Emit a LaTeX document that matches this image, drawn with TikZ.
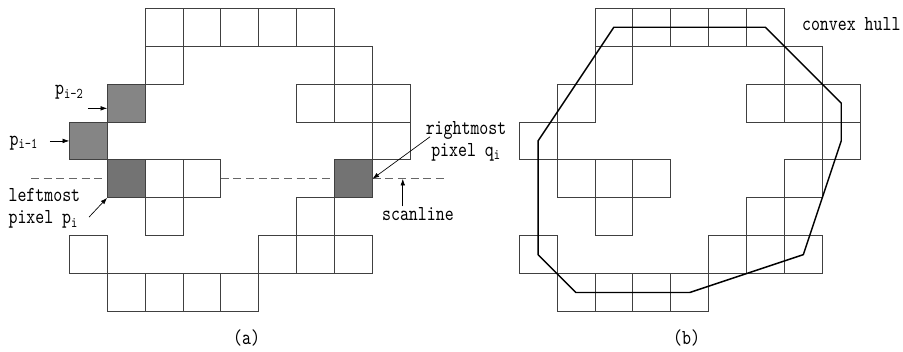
\documentclass[tikz,border=0pt]{standalone}
\usepackage{fontspec}
\usepackage{tikz}
\usetikzlibrary{arrows.meta}
\newfontfamily\pixfont[FakeStretch=0.8]{lmmono10-regular.otf}
\newcommand{\blobcells}{2/0,3/0,4/0,5/0,6/0,2/1,7/1,1/2,6/2,7/2,8/2,0/3,8/3,1/4,2/4,3/4,7/4,2/5,6/5,0/6,5/6,6/6,7/6,1/7,2/7,3/7,4/7}
\tikzstyle{pixel}=[draw=black!75, fill=white, line width=0.6pt, inner sep=0, outer sep=0, minimum size=1cm]
\tikzstyle{spixel}=[pixel, fill=black!55]
\tikzstyle{lbl}=[inner sep=0, font=\pixfont\fontsize{16}{16.5}\selectfont]
\tikzstyle{ptr}=[line width=0.5pt, -{Latex[length=5pt,width=3.5pt]}]
\tikzstyle{scanline}=[black!60, line width=0.8pt, dash pattern=on 6pt off 3.5pt]
\tikzstyle{hull}=[line width=1.1pt, line join=round]
\begin{document}
\begin{tikzpicture}
        \useasboundingbox (-1.829,0.219) rectangle (22.0,-9.069);
        % (a): scanline under the pixels
        \coordinate (sl0) at (-1.01,-4.5);
        \coordinate (sl1) at (10,-4.5);
        \draw[scanline] (sl0) -- (sl1);
        \foreach \c/\r in \blobcells
            \node[pixel] (a-\c-\r) at (\c+0.5,-\r-0.5) {};
        \node[spixel, fill=black!48] (pim2) at (1.5,-2.5) {};
        \node[spixel, fill=black!48] (pim1) at (0.5,-3.5) {};
        \node[spixel]                (pi)   at (1.5,-4.5) {};
        \node[spixel]                (qi)   at (7.5,-4.5) {};
        \node[lbl] (lpim2) at (0,-2.22) {p\textsubscript{i-2}};
        \node[lbl] (lpim1) at (-1.2,-3.55) {p\textsubscript{i-1}};
        \node[lbl, align=left, anchor=west] (lpi) at (-1.61,-5.28) {leftmost\\pixel p\textsubscript{i}};
        \node[lbl, align=center] (lqi) at (10.47,-3.5) {rightmost\\pixel q\textsubscript{i}};
        \node[lbl] (lscan) at (9.2,-5.42) {scanline};
        \coordinate (tpim2) at (0.49,-2.64);
        \coordinate (tpim1) at (-0.51,-3.5);
        \coordinate (tpi)   at (0.52,-5.51);
        \coordinate (tqi)   at (9.52,-3.39);
        \coordinate (tscan) at (8.8,-5.23);
        \draw[ptr] (tpim2) -- (tpim2 -| pim2.west);
        \draw[ptr] (tpim1) -- (pim1.west);
        \draw[ptr] (tpi) -- (pi.south west);
        \draw[ptr] (tqi) -- (qi.east);
        \draw[ptr] (tscan) -- (tscan |- sl0);
        \node[lbl] (capa) at (4.68,-8.69) {(a)};
        % (b): same pixels with their hull
        \begin{scope}[xshift=11.87cm]
            \foreach \c/\r in \blobcells
                \node[pixel] (b-\c-\r) at (\c+0.5,-\r-0.5) {};
            \draw[hull] (b-2-0.center) -- (b-6-0.center) -- (b-8-2.center) -- (b-8-3.center)
                -- (b-7-6.center) -- (b-4-7.center) -- (b-1-7.center) -- (b-0-6.center)
                -- (b-0-3.center) -- cycle;
        \end{scope}
        \node[lbl, anchor=west] (lhull) at (19.33,-0.41) {convex hull};
        \node[lbl] (capb) at (16.29,-8.69) {(b)};
    \end{tikzpicture}
\end{document}
